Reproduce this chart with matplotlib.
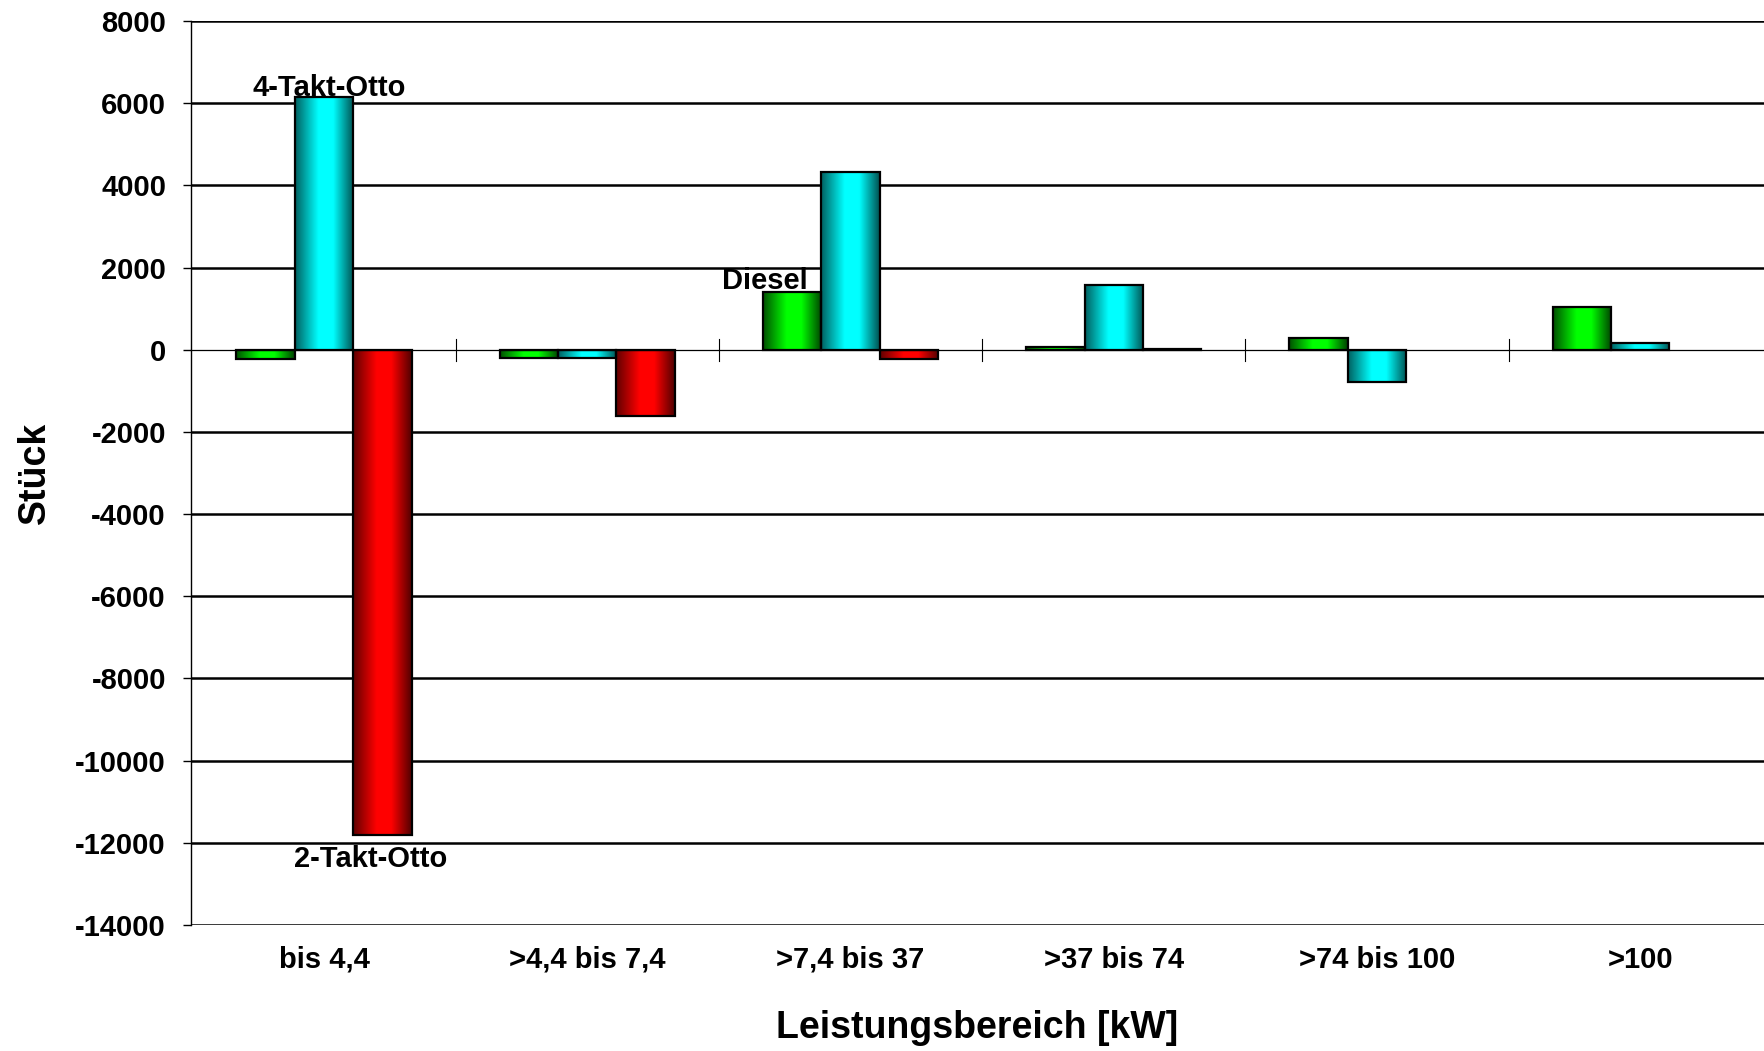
import matplotlib
matplotlib.use("Agg")
import matplotlib.pyplot as plt
import numpy as np
from matplotlib.colors import LinearSegmentedColormap

plt.rcParams['font.family'] = ['Liberation Sans', 'DejaVu Sans']
plt.rcParams['font.weight'] = 'bold'

# Daten (Stück, Veränderung je Leistungsbereich)
kategorien = ["bis 4,4", ">4,4 bis 7,4", ">7,4 bis 37", ">37 bis 74", ">74 bis 100", ">100"]
diesel = [-220, -190, 1400, 70, 275, 1045]
viertakt = [6150, -190, 4330, 1580, -790, 175]
zweitakt = [-11800, -1620, -220, 25, 0, 0]
yticks = list(range(-14000, 8001, 2000))

serien = [
    (diesel, ("#005000", "#00ff00", "#00ff00", "#004000")),
    (viertakt, ("#006060", "#00ffff", "#00ffff", "#005050")),
    (zweitakt, ("#600000", "#ff0000", "#ff0000", "#500000")),
]

fig = plt.figure(figsize=(17.64, 10.51), dpi=100)
ax = fig.add_axes([191 / 1764, 1 - 925 / 1051, 1 - 191 / 1764, (925 - 21) / 1051])

x = np.arange(len(kategorien))
breite = 0.222
grad = np.linspace(0, 1, 256).reshape(1, -1)

for i, (werte, farben) in enumerate(serien):
    cmap = LinearSegmentedColormap.from_list(
        "g%d" % i, list(zip([0, 0.4, 0.65, 1], farben)))
    bars = ax.bar(x + (i - 1) * breite, werte, breite, facecolor="none",
                  edgecolor="black", linewidth=1.6, zorder=4)
    for b in bars:
        if b.get_height() == 0:
            b.set_linewidth(0)  # leere Werte nicht zeichnen
            continue
        x0, y0 = b.get_x(), b.get_y()
        x1, y1 = x0 + b.get_width(), y0 + b.get_height()
        im = ax.imshow(grad, cmap=cmap, aspect="auto", zorder=3,
                       extent=[x0, x1, min(y0, y1), max(y0, y1)])
        im.set_clip_path(b)

# Gitternetz und Nulllinie
for yt in yticks:
    if yt == 0:
        continue
    ax.axhline(yt, color="black", lw=1.8, zorder=1)
ax.axhline(0, color="black", lw=0.9, zorder=5)
for xs in x[:-1] + 0.5:
    ax.plot([xs, xs], [-270, 270], color="black", lw=0.8, zorder=5)

ax.set_xlim(-0.505, 5.47)
ax.set_ylim(-14000, 8000)
ax.set_yticks(yticks)
ax.set_yticklabels([str(v) for v in yticks], fontsize=21, fontweight="bold")
ax.set_xticks(x)
ax.set_xticklabels(kategorien, fontsize=21, fontweight="bold")
ax.tick_params(axis="x", length=0, pad=15)
ax.tick_params(axis="y", length=6, width=1, pad=12)

for s in ["top", "right", "bottom"]:
    ax.spines[s].set_visible(False)
ax.spines["left"].set_linewidth(1.0)

ax.set_xlabel("Leistungsbereich [kW]", fontsize=27, fontweight="bold")
ax.xaxis.set_label_coords(0.5, -0.094)
ax.set_ylabel("Stück", fontsize=27, fontweight="bold")
ax.yaxis.set_label_coords(-0.088, 0.5)

ax.text(0.02, 6370, "4-Takt-Otto", fontsize=21, fontweight="bold",
        ha="center", va="center", zorder=6)
ax.text(1.675, 1680, "Diesel", fontsize=21, fontweight="bold",
        ha="center", va="center", zorder=6)
ax.text(0.177, -12400, "2-Takt-Otto", fontsize=21, fontweight="bold",
        ha="center", va="center", zorder=6)

fig.savefig("out.png", dpi=100)
